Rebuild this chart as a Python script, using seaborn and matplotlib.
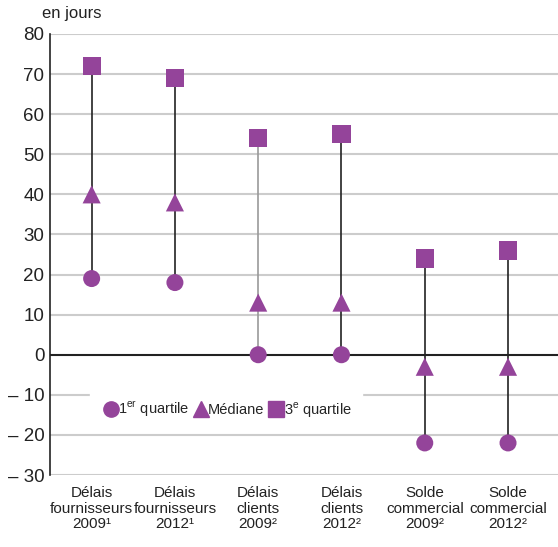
import matplotlib
matplotlib.use("Agg")
import matplotlib.pyplot as plt
import seaborn as sns
import pandas as pd
from matplotlib.lines import Line2D

categories = ["Délais\nfournisseurs\n2009¹", "Délais\nfournisseurs\n2012¹",
              "Délais\nclients\n2009²", "Délais\nclients\n2012²",
              "Solde\ncommercial\n2009²", "Solde\ncommercial\n2012²"]
q1 = [19, 18, 0, 0, -22, -22]
median = [40, 38, 13, 13, -3, -3]
q3 = [72, 69, 54, 55, 24, 26]
line_colors = ["#222222", "#222222", "#999999", "#222222", "#222222", "#222222"]
yticks = [80, 70, 60, 50, 40, 30, 20, 10, 0, -10, -20, -30]
ytick_labels = ["80", "70", "60", "50", "40", "30", "20", "10", "0", "– 10", "– 20", "– 30"]

sns.set_theme(style="white")
plt.rcParams['font.family'] = ['Liberation Sans', 'DejaVu Sans']
plt.rcParams['mathtext.fontset'] = 'custom'
plt.rcParams['mathtext.rm'] = 'Liberation Sans'

purple = "#94449A"
fig = plt.figure(figsize=(5.58, 5.47), dpi=100)
ax = fig.add_axes([50/558, (547-475)/547, 1 - 50/558, (475-34)/547])

x = list(range(len(categories)))
df = pd.DataFrame({"x": x, "q1": q1, "med": median, "q3": q3})

for i in x:
    ax.vlines(df.x[i], df.q1[i], df.q3[i], color=line_colors[i], lw=1.2, zorder=2)

sns.scatterplot(data=df, x="x", y="q1", marker="o", s=150, color=purple, edgecolor="none", ax=ax, zorder=3)
sns.scatterplot(data=df, x="x", y="med", marker="^", s=170, color=purple, edgecolor="none", ax=ax, zorder=3)
sns.scatterplot(data=df, x="x", y="q3", marker="s", s=170, color=purple, edgecolor="none", ax=ax, zorder=3)

ax.set_ylim(-30, 80)
ax.set_xlim(-0.5, 5.6)
ax.set_yticks(yticks)
ax.set_yticklabels(ytick_labels, fontsize=13.5, color="#222222")
ax.set_xticks(x)
ax.set_xticklabels(categories, fontsize=11, color="#222222", linespacing=1.15)
ax.tick_params(axis="x", length=0, pad=8)
ax.tick_params(axis="y", length=0, pad=4)
ax.set_xlabel("")
ax.set_ylabel("")
for yv in yticks:
    if yv == 0:
        ax.axhline(0, color="#222222", lw=1.5, zorder=1)
    else:
        ax.axhline(yv, color="#cccccc", lw=1.5, zorder=0)
for s in ["top", "right", "bottom"]:
    ax.spines[s].set_visible(False)
ax.spines["left"].set_color("#222222")
ax.spines["left"].set_linewidth(1.2)

ax.text(-0.015, 1.03, "en jours", transform=ax.transAxes, fontsize=12, color="#222222", ha="left", va="bottom")

handles = [Line2D([], [], marker="o", ls="none", color=purple, markersize=11),
           Line2D([], [], marker="^", ls="none", color=purple, markersize=12),
           Line2D([], [], marker="s", ls="none", color=purple, markersize=11)]
labels = ["1$^{\\mathrm{er}}$ quartile", "Médiane", "3$^{\\mathrm{e}}$ quartile"]
leg = ax.legend(handles, labels, loc="center left", bbox_to_anchor=(0.065, 0.148), ncol=3,
                frameon=True, fontsize=10.5, handletextpad=-0.2, columnspacing=0.1,
                handlelength=1.4, borderpad=0.7, fancybox=False)
leg.get_frame().set_edgecolor("white")
leg.get_frame().set_facecolor("white")
leg.get_frame().set_alpha(1)
leg.set_zorder(5)

fig.savefig("out.png", dpi=100)
